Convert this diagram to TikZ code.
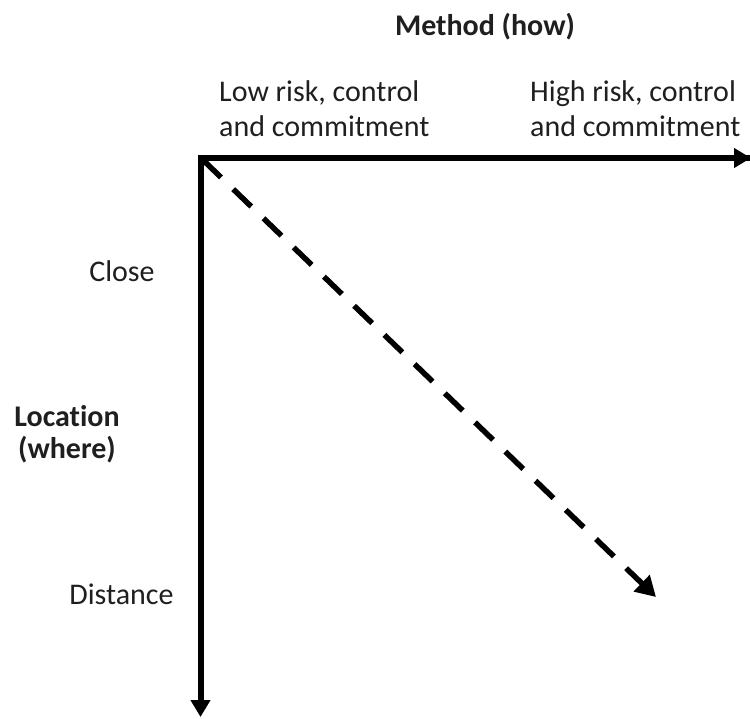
\documentclass[tikz,border=0pt]{standalone}
\usepackage{fontspec}
\setmainfont{Carlito}[RawFeature=-liga]
\usetikzlibrary{arrows.meta}
\begin{document}
\begin{tikzpicture}[x=1pt,y=-1pt,
  lbl/.style={inner sep=0pt, font=\fontsize{30}{35}\selectfont, text=black!88},
  axis/.style={line width=6pt, -{Triangle[length=17pt,width=19pt]}},
  trend/.style={line width=5.5pt, dash pattern=on 25pt off 17pt,
    -{Triangle[length=20pt,width=22pt]}}]
  \useasboundingbox (0,0) rectangle (750,718);
  % axes
  \coordinate (origin) at (200.5,158);
  \coordinate (xend) at (751,158);
  \coordinate (yend) at (200.5,717);
  \coordinate (dstart) at (203,160);
  \coordinate (dend) at (656,597);
  \draw[axis, line join=miter] (xend) -- (origin) -- (yend);
  \draw[axis] (origin) -- (xend);
  \draw[trend] (dstart) -- (dend);
  % labels (base anchor sits on the last line of multi-line text)
  \node[lbl, font=\fontsize{30}{35}\selectfont\bfseries, anchor=base] (method) at (485,35) {Method (how)};
  \node[lbl, anchor=base west, align=left] (low) at (219,136) {Low risk, control\\and commitment};
  \node[lbl, anchor=base west, align=left] (high) at (530,136) {High risk, control\\and commitment};
  \node[lbl, anchor=base] (close) at (122,281) {Close};
  \node[lbl, font=\fontsize{30}{32}\selectfont\bfseries, anchor=base, align=center] (loc) at (67,458) {Location\\(where)};
  \node[lbl, anchor=base] (dist) at (121.5,604) {Distance};
\end{tikzpicture}
\end{document}
